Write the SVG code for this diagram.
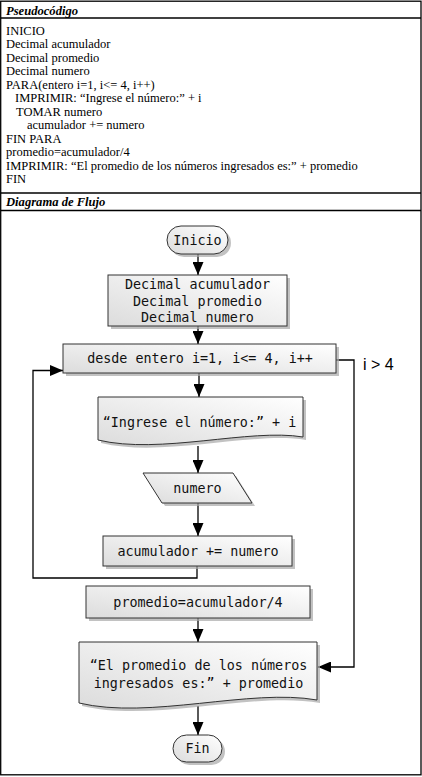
<svg xmlns="http://www.w3.org/2000/svg" width="422" height="777" viewBox="0 0 422 777">
<defs>
<linearGradient id="g" x1="1" y1="0" x2="0" y2="1">
<stop offset="0" stop-color="#ffffff"/>
<stop offset="1" stop-color="#dcdcdc"/>
</linearGradient>
<marker id="ah" markerUnits="userSpaceOnUse" markerWidth="13" markerHeight="11" refX="13" refY="5.5" orient="auto">
<path d="M0,0 L13,5.5 L0,11 z" fill="#000"/>
</marker>
<style>
.tbl{fill:none;stroke:#000;stroke-width:1.3}
.ps{font-family:"Liberation Serif","Times New Roman",serif;font-size:12.5px;fill:#000}
.hd{font-family:"Liberation Serif","Times New Roman",serif;font-size:12.6px;font-weight:bold;font-style:italic;fill:#000}
.sh{fill:#a8a8a8;opacity:0.7}
.nd{fill:url(#g);stroke:#333;stroke-width:1}
.mt{font-family:"DejaVu Sans Mono","Liberation Mono",monospace;font-size:13.4px;fill:#111;text-anchor:middle}
.cn{fill:none;stroke:#000;stroke-width:1.3}
.lb{font-family:"Liberation Sans",Arial,sans-serif;font-size:16px;fill:#000}
</style>
</defs>
<g id="table">
<rect class="tbl" x="0.7" y="1.2" width="420.3" height="773.6"/>
<line class="tbl" x1="0.7" y1="18" x2="421" y2="18"/>
<line class="tbl" x1="0.7" y1="193" x2="421" y2="193"/>
<line class="tbl" x1="0.7" y1="210.5" x2="421" y2="210.5"/>
<text class="hd" x="6" y="14.5">Pseudocódigo</text>
<text class="hd" x="6" y="206">Diagrama de Flujo</text>
</g>
<g id="pseudocode">
<text class="ps" x="6" y="34.5">INICIO</text>
<text class="ps" x="6" y="48">Decimal acumulador</text>
<text class="ps" x="6" y="61.5">Decimal promedio</text>
<text class="ps" x="6" y="75">Decimal numero</text>
<text class="ps" x="6" y="88.5">PARA(entero i=1, i&lt;= 4, i++)</text>
<text class="ps" x="15" y="102">IMPRIMIR: “Ingrese el número:” + i</text>
<text class="ps" x="16" y="115.5">TOMAR numero</text>
<text class="ps" x="27" y="129">acumulador += numero</text>
<text class="ps" x="6" y="142.5">FIN PARA</text>
<text class="ps" x="6" y="156">promedio=acumulador/4</text>
<text class="ps" x="6" y="169.5">IMPRIMIR: “El promedio de los números ingresados es:” + promedio</text>
<text class="ps" x="6" y="183">FIN</text>
</g>
<g id="connectors">
<line class="cn" x1="198" y1="254" x2="198" y2="275" marker-end="url(#ah)"/>
<line class="cn" x1="198" y1="326" x2="198" y2="344" marker-end="url(#ah)"/>
<line class="cn" x1="199" y1="373" x2="199" y2="397" marker-end="url(#ah)"/>
<line class="cn" x1="198" y1="446" x2="198" y2="473" marker-end="url(#ah)"/>
<line class="cn" x1="198" y1="503" x2="198" y2="536" marker-end="url(#ah)"/>
<polyline class="cn" points="197,566 197,578 33,578 33,370.5 63,370.5" marker-end="url(#ah)"/>
<polyline class="cn" points="336,360 354,360 354,667 318,667" marker-end="url(#ah)"/>
<line class="cn" x1="198" y1="618" x2="198" y2="642" marker-end="url(#ah)"/>
<line class="cn" x1="198" y1="706" x2="198" y2="735" marker-end="url(#ah)"/>
<text class="lb" x="363" y="370">i &gt; 4</text>
</g>
<g id="inicio">
<rect class="sh" x="170" y="229" width="61" height="28" rx="14"/>
<rect class="nd" x="167" y="226" width="61" height="28" rx="14"/>
<text class="mt" x="197.5" y="244.5">Inicio</text>
</g>
<g id="declaraciones">
<rect class="sh" x="111" y="278" width="179" height="51"/>
<rect class="nd" x="108" y="275" width="179" height="51"/>
<text class="mt" x="197.5" y="289">Decimal acumulador</text>
<text class="mt" x="197.5" y="305.5">Decimal promedio</text>
<text class="mt" x="197.5" y="322">Decimal numero</text>
</g>
<g id="desde">
<rect class="sh" x="66" y="347" width="273" height="29"/>
<rect class="nd" x="63" y="344" width="273" height="29"/>
<text class="mt" x="200" y="363">desde entero i=1, i&lt;= 4, i++</text>
</g>
<g id="ingrese">
<path class="sh" d="M101,400 H306 V440 C 253,431 163,458 101,443 Z"/>
<path class="nd" d="M98,397 H303 V437 C 250,428 160,455 98,440 Z"/>
<text class="mt" x="199.5" y="426.5">“Ingrese el número:” + i</text>
</g>
<g id="numero">
<polygon class="sh" points="146,476 236,476 255,506 165,506"/>
<polygon class="nd" points="143,473 233,473 252,503 162,503"/>
<text class="mt" x="197.5" y="492.5">numero</text>
</g>
<g id="acumulador">
<rect class="sh" x="106" y="539" width="189" height="30"/>
<rect class="nd" x="103" y="536" width="189" height="30"/>
<text class="mt" x="198" y="556">acumulador += numero</text>
</g>
<g id="promedio">
<rect class="sh" x="89" y="589" width="224" height="32"/>
<rect class="nd" x="86" y="586" width="224" height="32"/>
<text class="mt" x="198" y="606.5">promedio=acumulador/4</text>
</g>
<g id="salida">
<path class="sh" d="M82,645 H320 V703 C 253,691 153,723 82,706 Z"/>
<path class="nd" d="M79,642 H317 V700 C 250,688 150,720 79,703 Z"/>
<text class="mt" x="198.5" y="669.5">“El promedio de los números</text>
<text class="mt" x="198.5" y="687.5">ingresados es:” + promedio</text>
</g>
<g id="fin">
<rect class="sh" x="176" y="738" width="49" height="27" rx="13.5"/>
<rect class="nd" x="173" y="735" width="49" height="27" rx="13.5"/>
<text class="mt" x="197.5" y="753">Fin</text>
</g>
</svg>
